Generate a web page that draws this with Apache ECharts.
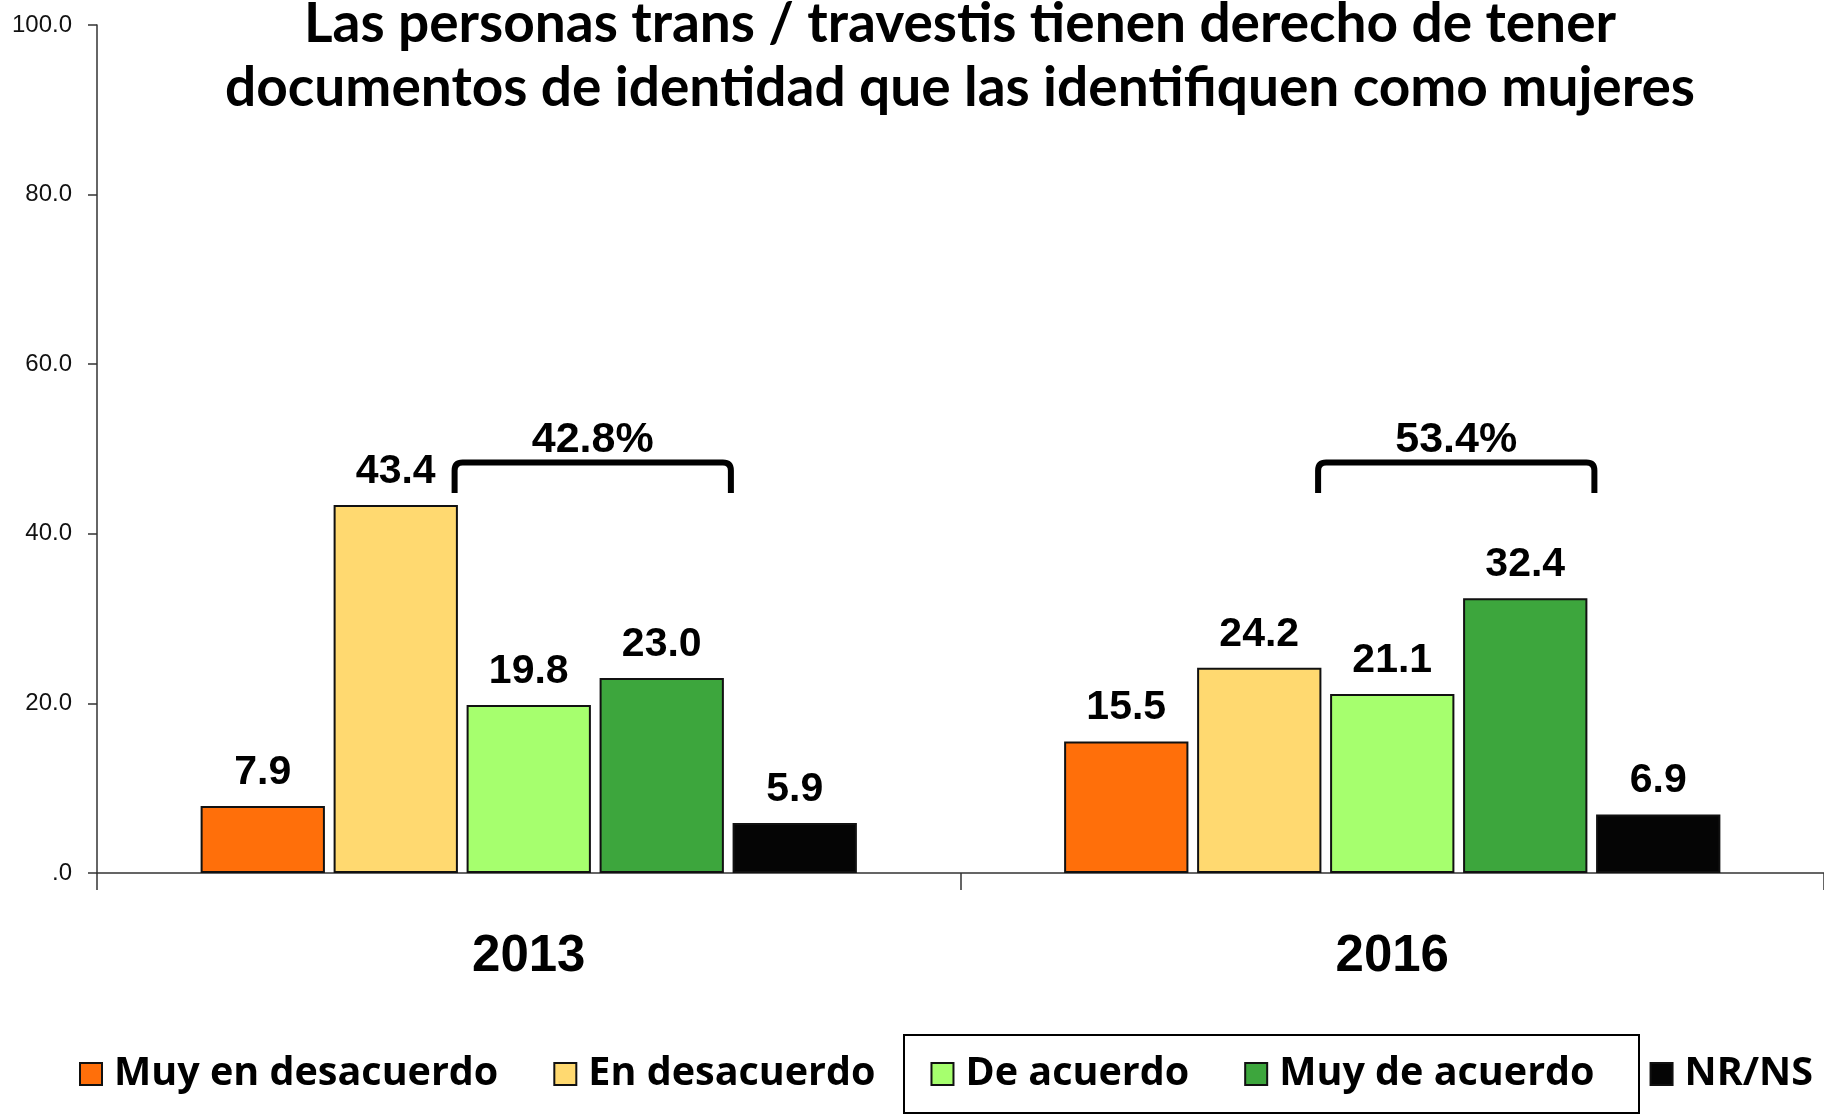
<!DOCTYPE html>
<html>
<head>
<meta charset="utf-8">
<script src="https://cdn.jsdelivr.net/npm/echarts@6/dist/echarts.min.js"></script>
<style>
html,body{margin:0;padding:0;background:#fff;}
#chart{width:1824px;height:1115px;}
</style>
</head>
<body>
<div id="chart"></div>
<script>
// ---- data ----
const titleLines = ['Las personas trans / travestis tienen derecho de tener', 'documentos de identidad que las identifiquen como mujeres'];
const categories = ['2013', '2016'];
const seriesNames = ['Muy en desacuerdo', 'En desacuerdo', 'De acuerdo', 'Muy de acuerdo', 'NR/NS'];
const muyEnDesacuerdo = [7.9, 15.5];
const enDesacuerdo = [43.4, 24.2];
const deAcuerdo = [19.8, 21.1];
const muyDeAcuerdo = [23.0, 32.4];
const nrns = [5.9, 6.9];
const bracketTotals = [42.8, 53.4];
const yTickLabels = ['.0', '20.0', '40.0', '60.0', '80.0', '100.0'];

// ---- styles ----
const colors = ['#FF6F0A', '#FFD970', '#A6FF6E', '#3DA63D', '#050505'];
const seriesValues = [muyEnDesacuerdo, enDesacuerdo, deAcuerdo, muyDeAcuerdo, nrns];
const CAT_GAP = 0.24, BAR_GAP = 0.07;
const BRACKET_TOP = 48.4, BRACKET_BOTTOM = 44.8;

const chart = echarts.init(document.getElementById('chart'));

const barSeries = seriesNames.map((name, i) => ({
  name: name,
  type: 'bar',
  data: seriesValues[i],
  barCategoryGap: (CAT_GAP * 100) + '%',
  barGap: (BAR_GAP * 100) + '%',
  itemStyle: { color: colors[i], borderColor: '#111', borderWidth: 2 },
  label: {
    show: true,
    position: 'top',
    distance: 13,
    color: '#000',
    fontFamily: 'Liberation Sans',
    fontWeight: 'bold',
    fontSize: 41,
    formatter: p => p.value.toFixed(1)
  },
  silent: true
}));

const bracketSeries = {
  name: 'brackets',
  type: 'custom',
  silent: true,
  z: 10,
  data: bracketTotals.map((v, i) => [i, v]),
  renderItem: function (params, api) {
    const cat = api.value(0);
    const total = api.value(1);
    const cx = api.coord([cat, 0])[0];
    const band = api.size([1, 0])[0];
    const w = band * (1 - CAT_GAP) / (5 + 4 * BAR_GAP);
    const g = w * BAR_GAP;
    const x1 = cx - w / 2 - 12;
    const x2 = cx + w / 2 + g + w + 7;
    const yT = api.coord([cat, BRACKET_TOP])[1];
    const yB = api.coord([cat, BRACKET_BOTTOM])[1];
    const r = 8;
    const d = 'M' + x1 + ' ' + yB + ' L' + x1 + ' ' + (yT + r) +
      ' Q' + x1 + ' ' + yT + ' ' + (x1 + r) + ' ' + yT +
      ' L' + (x2 - r) + ' ' + yT +
      ' Q' + x2 + ' ' + yT + ' ' + x2 + ' ' + (yT + r) +
      ' L' + x2 + ' ' + yB;
    return {
      type: 'group',
      children: [
        { type: 'path', shape: { pathData: d }, style: { fill: 'none', stroke: '#000', lineWidth: 6, lineCap: 'butt', lineJoin: 'round' } },
        { type: 'text', x: (x1 + x2) / 2, y: yT - 1, style: { text: total.toFixed(1) + '%', fill: '#000', font: 'bold 43px "Liberation Sans"', align: 'center', verticalAlign: 'bottom' } }
      ]
    };
  }
};

const option = {
  backgroundColor: '#fff',
  animation: false,
  title: {
    text: titleLines.join('\n'),
    left: 960,
    top: -8,
    padding: 0,
    textAlign: 'center',
    textStyle: { fontFamily: 'Lato', fontWeight: 'bold', fontSize: 55, lineHeight: 64, color: '#000' }
  },
  legend: {
    data: seriesNames,
    left: 79,
    top: 1054,
    width: 1760,
    padding: 0,
    itemGap: 55,
    itemWidth: 22,
    itemHeight: 22,
    icon: 'rect',
    selectedMode: false,
    textStyle: { fontFamily: 'Open Sans', fontWeight: 'bold', fontSize: 39.5, color: '#000', padding: [0, 0, 0, 7] }
  },
  grid: { left: 97, top: 25, width: 1732, height: 848, containLabel: false },
  xAxis: {
    type: 'category',
    data: categories,
    axisLine: { show: true, lineStyle: { color: '#333', width: 1.5 } },
    axisTick: { show: true, length: 17, lineStyle: { color: '#333', width: 1.5 } },
    axisLabel: { margin: 58, color: '#000', fontFamily: 'Liberation Sans', fontWeight: 'bold', fontSize: 51 }
  },
  yAxis: {
    type: 'value',
    min: 0,
    max: 100,
    interval: 20,
    splitLine: { show: false },
    axisLine: { show: true, lineStyle: { color: '#333', width: 1.5 } },
    axisTick: { show: true, length: 9, lineStyle: { color: '#333', width: 1.5 } },
    axisLabel: {
      margin: 25,
      color: '#111',
      fontFamily: 'Liberation Sans',
      fontSize: 24,
      formatter: v => yTickLabels[Math.round(v / 20)]
    }
  },
  graphic: [
    { type: 'rect', shape: { x: 904, y: 1035, width: 735, height: 78 }, style: { fill: 'none', stroke: '#000', lineWidth: 2 }, z: 100 }
  ],
  series: barSeries.concat([bracketSeries])
};
chart.setOption(option);
</script>
</body>
</html>
